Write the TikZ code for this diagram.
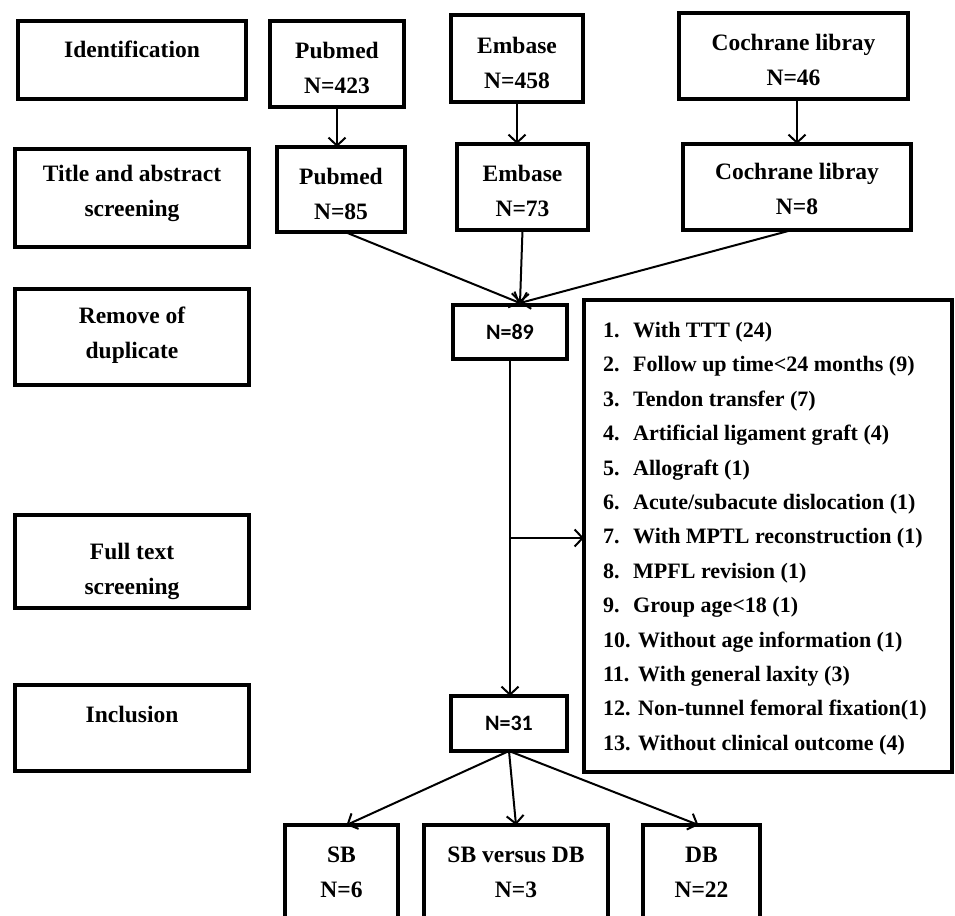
\documentclass[tikz,border=0pt]{standalone}
\usepackage{fontspec}
\setmainfont{Liberation Serif}
\newfontfamily\calfont{Carlito}
\usetikzlibrary{arrows.meta}
\begin{document}
\begin{tikzpicture}[x=1pt,y=-1pt,
  box/.style={draw, line width=4pt, inner sep=0pt, outer sep=0pt},
  hd/.style={font=\fontsize{23.5}{35}\selectfont\bfseries, align=center, inner sep=0pt},
  nn/.style={font=\calfont\fontsize{22}{26}\selectfont\bfseries},
  item/.style={font=\fontsize{22}{26}\selectfont\bfseries, anchor=base west, inner sep=0pt},
  arr/.style={line width=2pt, -{Straight Barb[length=8pt,width=17pt]}},
  ln/.style={line width=2pt}]
\clip (0,0) rectangle (955,915);
\fill[white] (0,0) rectangle (955,915);

% left column
\node[box, minimum width=228pt, minimum height=78pt] (id) at (132,60) {};
\node[hd] (idT) at (132,49) {Identification};
\node[box, minimum width=234pt, minimum height=98pt] (ta) at (132,198) {};
\node[hd] (taT) at (132,193.5) {Title and abstract\\screening};
\node[box, minimum width=234pt, minimum height=96pt] (rd) at (132,337) {};
\node[hd] (rdT) at (132,335) {Remove of\\duplicate};
\node[box, minimum width=234pt, minimum height=93pt] (ft) at (132,561.5) {};
\node[hd] (ftT) at (132,571.5) {Full text\\screening};
\node[box, minimum width=234pt, minimum height=86pt] (inc) at (132,728) {};
\node[hd] (incT) at (132,714) {Inclusion};

% identification row
\node[box, minimum width=134pt, minimum height=86pt] (p1) at (337,64) {};
\node[hd] (p1T) at (337,67.5) {Pubmed\\N=423};
\node[box, minimum width=132pt, minimum height=87pt] (e1) at (517,58.5) {};
\node[hd] (e1T) at (517,62.5) {Embase\\N=458};
\node[box, minimum width=229pt, minimum height=86pt] (c1) at (793.5,56) {};
\node[hd] (c1T) at (793.5,59.5) {Cochrane libray\\N=46};

% screening row
\node[box, minimum width=128pt, minimum height=85pt] (p2) at (341,189.5) {};
\node[hd] (p2T) at (341,193.5) {Pubmed\\N=85};
\node[box, minimum width=131pt, minimum height=86pt] (e2) at (522.5,187) {};
\node[hd] (e2T) at (522.5,191) {Embase\\N=73};
\node[box, minimum width=228pt, minimum height=86pt] (c2) at (797,187) {};
\node[hd] (c2T) at (797,189) {Cochrane libray\\N=8};

% counts
\node[box, nn, minimum width=114pt, minimum height=54pt] (n89) at (510,332) {N=89};
\node[box, nn, minimum width=116pt, minimum height=55pt] (n31) at (509,723.5) {N=31};

% exclusion box
\node[box, minimum width=368pt, minimum height=472pt] (excl) at (768,536) {};
\foreach \t [count=\i] in {{With TTT (24)},{Follow up time<24 months (9)},{Tendon transfer (7)},{Artificial ligament graft (4)},{Allograft (1)},{Acute/subacute dislocation (1)},{With MPTL reconstruction (1)},{MPFL revision (1)},{Group age<18 (1)}}
  \node[item] (ex\i) at (603,{337.5+34.4*(\i-1)}) {\makebox[30pt][l]{\i.}\t};
\foreach \t [count=\j from 10] in {{Without age information (1)},{With general laxity (3)},{Non-tunnel femoral fixation(1)},{Without clinical outcome (4)}}
  \node[item] (ex\j) at (603,{337.5+34.4*(\j-1)}) {\makebox[35pt][l]{\j.}\t};

% outcome boxes (cut by the lower edge)
\node[box, hd, minimum width=113pt, minimum height=94pt] (sb) at (341.5,872) {SB\\N=6};
\node[box, hd, minimum width=184pt, minimum height=94pt] (sbdb) at (516,872) {SB versus DB\\N=3};
\node[box, hd, minimum width=117pt, minimum height=94pt] (db) at (701.5,872) {DB\\N=22};

% connectors
\draw[arr] (p1.south) -- (p1.south |- p2.north);
\draw[arr] (e1.south) -- (e1.south |- e2.north);
\draw[arr] (c2.north |- c1.south) -- (c2.north);
\coordinate (m) at (520,303);
\draw[arr] ([xshift=4pt]p2.south) -- (m);
\draw[arr] (e2.south) -- (m);
\draw[arr] ([xshift=-5pt]c2.south) -- (m);
\draw[arr] (n89.south) -- (n89.south |- n31.north);
\coordinate (br) at (510,538);
\draw[arr] (br) -- (br -| excl.west);
\draw[arr] (n31.south) -- ([xshift=5pt]sb.north);
\draw[arr] (n31.south) -- (sbdb.north);
\draw[arr] (n31.south) -- ([xshift=-3pt]db.north);
\end{tikzpicture}
\end{document}
